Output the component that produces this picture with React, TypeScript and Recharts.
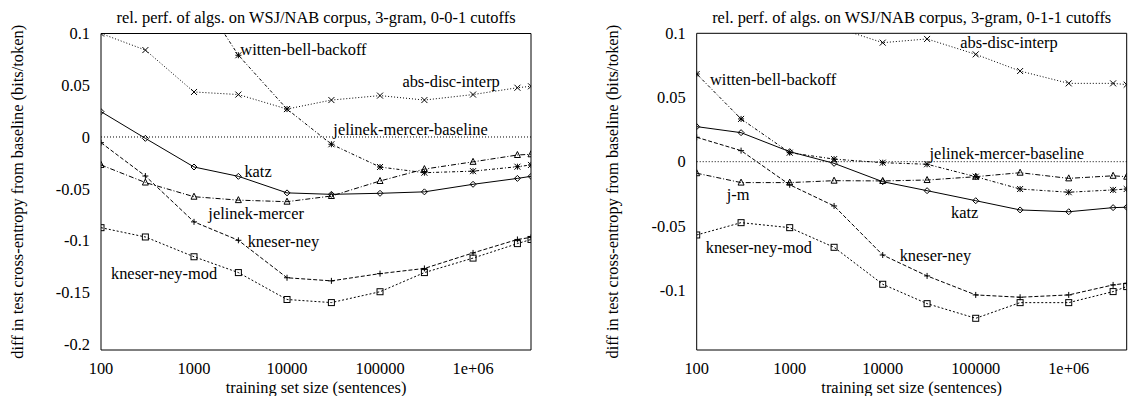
import React from 'react'
import {
  LineChart,
  Line,
  XAxis,
  YAxis,
  ReferenceLine,
  ReferenceDot,
} from 'recharts'

const FONT = 'Liberation Serif, Times New Roman, Times, serif'
const FS = 16.4

// training set sizes (sentences), shared by both panels
const SIZES = [100, 300, 1000, 3000, 10000, 30000, 100000, 300000, 1000000, 3000000, 4200000]
const X_MAJOR = [100, 1000, 10000, 100000, 1000000]
const X_MINOR_MULT = [2, 3, 4, 5, 6, 7, 8, 9]
const X_DOMAIN: [number, number] = [100, 4200000]

// left panel: 0-0-1 cutoffs
const L_KATZ = [0.0245, -0.0013, -0.029, -0.038, -0.054, -0.0554, -0.0544, -0.053, -0.0457, -0.04, -0.038]
const L_ABS = [0.1, 0.084, 0.0435, 0.041, 0.027, 0.0357, 0.04, 0.0357, 0.041, 0.0476, 0.049]
const L_WB = [0.26, 0.2, 0.145, 0.079, 0.027, -0.007, -0.029, -0.0345, -0.033, -0.0287, -0.027]
const L_JM = [-0.027, -0.044, -0.0577, -0.061, -0.0625, -0.057, -0.0425, -0.031, -0.024, -0.0174, -0.0167]
const L_KN = [-0.0055, -0.0377, -0.082, -0.0998, -0.136, -0.139, -0.132, -0.127, -0.112, -0.099, -0.097]
const L_KNM = [-0.0876, -0.0966, -0.1157, -0.131, -0.157, -0.16, -0.1495, -0.131, -0.117, -0.103, -0.099]
const L_Y_TICKS = [-0.2, -0.15, -0.1, -0.05, 0, 0.05, 0.1]

// right panel: 0-1-1 cutoffs
const R_KATZ = [0.0273, 0.0226, 0.0078, -0.0013, -0.0156, -0.0226, -0.0304, -0.0376, -0.039, -0.0358, -0.0355]
const R_ABS = [0.135, 0.125, 0.115, 0.105, 0.0927, 0.0956, 0.0836, 0.0706, 0.061, 0.061, 0.06]
const R_WB = [0.0683, 0.0333, 0.007, 0.002, -0.0008, -0.002, -0.0117, -0.0213, -0.0238, -0.022, -0.0213]
const R_JM = [-0.009, -0.0163, -0.0163, -0.0148, -0.015, -0.0143, -0.0117, -0.0086, -0.013, -0.011, -0.0117]
const R_KN = [0.019, 0.0086, -0.018, -0.0345, -0.0727, -0.089, -0.1038, -0.1056, -0.1038, -0.096, -0.0947]
const R_KNM = [-0.0571, -0.0475, -0.0514, -0.0667, -0.0955, -0.1106, -0.122, -0.1098, -0.1098, -0.1012, -0.0973]
const R_Y_TICKS = [-0.1, -0.05, 0, 0.05, 0.1]

type Shape = 'diamond' | 'cross' | 'star' | 'triangle' | 'plus' | 'square'

interface SeriesDef {
  key: string
  values: number[]
  shape: Shape
  dash?: string
}

interface Note {
  text: string
  x: number
  y: number
}

const X_MINOR = X_MAJOR.flatMap((d) => X_MINOR_MULT.map((m) => d * m)).filter(
  (v) => v <= X_DOMAIN[1]
)

const fmtX = (v: number) => (v >= 1000000 ? '1e+06' : String(v))

function Marker({ cx, cy, shape }: { cx: number; cy: number; shape: Shape }) {
  const s = 3
  const st = { stroke: '#000', strokeWidth: 1, fill: 'none' }
  switch (shape) {
    case 'diamond':
      return <path d={`M${cx},${cy - s} L${cx + s},${cy} L${cx},${cy + s} L${cx - s},${cy} Z`} {...st} />
    case 'cross':
      return <path d={`M${cx - s},${cy - s} L${cx + s},${cy + s} M${cx - s},${cy + s} L${cx + s},${cy - s}`} {...st} />
    case 'star':
      return (
        <path
          d={`M${cx - s},${cy - s} L${cx + s},${cy + s} M${cx - s},${cy + s} L${cx + s},${cy - s} M${cx - s},${cy} L${cx + s},${cy} M${cx},${cy - s} L${cx},${cy + s}`}
          {...st}
        />
      )
    case 'triangle':
      return <path d={`M${cx},${cy - s - 0.5} L${cx + s},${cy + s - 0.5} L${cx - s},${cy + s - 0.5} Z`} {...st} />
    case 'plus':
      return <path d={`M${cx - s},${cy} L${cx + s},${cy} M${cx},${cy - s} L${cx},${cy + s}`} {...st} />
    default:
      return <rect x={cx - s} y={cy - s} width={2 * s} height={2 * s} {...st} />
  }
}

const dotFor = (shape: Shape) => (p: any) => {
  if (!Number.isFinite(p.cx) || !Number.isFinite(p.cy)) return <g key={`e-${p.index}`} />
  return (
    <g key={`${shape}-${p.index}`}>
      <Marker cx={p.cx} cy={p.cy} shape={shape} />
    </g>
  )
}

const textStyle = { fontFamily: FONT, fontSize: FS, fill: '#000' }

interface PanelProps {
  title: string
  left: number
  width: number
  marginRight: number
  marginTop: number
  yWidth: number
  yLabelX: number
  yDomain: [number, number]
  yTicks: number[]
  series: SeriesDef[]
  notes: Note[]
}

function Panel(props: PanelProps) {
  const { title, left, width, marginRight, marginTop, yWidth, yLabelX, yDomain, yTicks, series, notes } = props
  const rows = SIZES.map((x, i) => {
    const row: Record<string, number> = { x }
    series.forEach((s) => (row[s.key] = s.values[i]))
    return row
  })
  const axisLine = { stroke: '#000', strokeWidth: 1 }
  const tickLine = { stroke: '#000', strokeWidth: 1 }

  return (
    <div style={{ position: 'absolute', left, top: 0 }}>
      <LineChart
        width={width}
        height={396}
        data={rows}
        margin={{ top: marginTop, right: marginRight, bottom: 0, left: 0 }}
        style={{ fontFamily: FONT }}
      >
        {/* labelled axes */}
        <XAxis
          dataKey="x"
          type="number"
          scale="log"
          domain={X_DOMAIN}
          allowDataOverflow
          ticks={X_MAJOR}
          interval={0}
          tickFormatter={fmtX}
          tickLine={false}
          axisLine={false}
          tickSize={0}
          tickMargin={12}
          height={46}
          tick={textStyle}
          fontFamily={FONT}
          label={{
            content: (p: any) => {
              const vb = p.viewBox || {}
              return (
                <text x={vb.x + vb.width / 2} y={vb.y + 37} textAnchor="middle" dominantBaseline="central" fontFamily={FONT} fontSize={FS} fill="#000">
                  training set size (sentences)
                </text>
              )
            },
          }}
        />
        <YAxis
          type="number"
          domain={yDomain}
          allowDataOverflow
          ticks={yTicks}
          interval={0}
          tickFormatter={(v: number) => String(v)}
          tickLine={false}
          axisLine={false}
          tickSize={0}
          tickMargin={11}
          width={yWidth}
          tick={textStyle}
          fontFamily={FONT}
          label={{
            content: (p: any) => {
              const vb = p.viewBox || {}
              const cx = vb.x + yLabelX
              const cy = vb.y + vb.height / 2
              return (
                <text
                  x={cx}
                  y={cy}
                  transform={`rotate(-90 ${cx} ${cy})`}
                  textAnchor="middle"
                  dominantBaseline="central"
                  fontFamily={FONT}
                  fontSize={FS}
                  fill="#000"
                >
                  diff in test cross-entropy from baseline (bits/token)
                </text>
              )
            },
          }}
        />

        {/* frame with inward ticks */}
        <XAxis xAxisId="bMaj" dataKey="x" type="number" scale="log" domain={X_DOMAIN} allowDataOverflow
          ticks={X_MAJOR} interval={0} mirror height={1} tick={false} tickSize={7} tickLine={tickLine} axisLine={axisLine} />
        <XAxis xAxisId="bMin" dataKey="x" type="number" scale="log" domain={X_DOMAIN} allowDataOverflow
          ticks={X_MINOR} interval={0} mirror height={1} tick={false} tickSize={4} tickLine={tickLine} axisLine={false} />
        <XAxis xAxisId="tMaj" orientation="top" dataKey="x" type="number" scale="log" domain={X_DOMAIN} allowDataOverflow
          ticks={X_MAJOR} interval={0} mirror height={1} tick={false} tickSize={7} tickLine={tickLine} axisLine={axisLine}
          label={{
            content: (p: any) => {
              const vb = p.viewBox || {}
              return (
                <text x={vb.x + vb.width / 2} y={vb.y - 16} textAnchor="middle" dominantBaseline="central" fontFamily={FONT} fontSize={FS} fill="#000">
                  {title}
                </text>
              )
            },
          }}
        />
        <XAxis xAxisId="tMin" orientation="top" dataKey="x" type="number" scale="log" domain={X_DOMAIN} allowDataOverflow
          ticks={X_MINOR} interval={0} mirror height={1} tick={false} tickSize={4} tickLine={tickLine} axisLine={false} />
        <YAxis yAxisId="lMaj" type="number" domain={yDomain} allowDataOverflow ticks={yTicks} interval={0}
          mirror width={1} tick={false} tickSize={7} tickLine={tickLine} axisLine={axisLine} />
        <YAxis yAxisId="rMaj" orientation="right" type="number" domain={yDomain} allowDataOverflow ticks={yTicks} interval={0}
          mirror width={1} tick={false} tickSize={7} tickLine={tickLine} axisLine={axisLine} />

        <ReferenceLine y={0} stroke="#000" strokeWidth={1} strokeDasharray="1 2" />

        {series.map((s) => (
          <Line
            key={s.key}
            dataKey={s.key}
            type="linear"
            stroke="#000"
            strokeWidth={1}
            strokeDasharray={s.dash}
            dot={dotFor(s.shape)}
            activeDot={false}
            isAnimationActive={false}
          />
        ))}

        {notes.map((n) => (
          <ReferenceDot
            key={n.text}
            x={n.x}
            y={n.y}
            r={1}
            ifOverflow="visible"
            shape={(p: any) => (
              <text x={p.cx} y={p.cy} dominantBaseline="central" fontFamily={FONT} fontSize={FS} fill="#000">
                {n.text}
              </text>
            )}
          />
        ))}
      </LineChart>
    </div>
  )
}

const LEFT_SERIES: SeriesDef[] = [
  { key: 'abs', values: L_ABS, shape: 'cross', dash: '1 2' },
  { key: 'wb', values: L_WB, shape: 'star', dash: '3 2 1 2' },
  { key: 'katz', values: L_KATZ, shape: 'diamond' },
  { key: 'jm', values: L_JM, shape: 'triangle', dash: '5 2 1 2' },
  { key: 'kn', values: L_KN, shape: 'plus', dash: '4 2' },
  { key: 'knm', values: L_KNM, shape: 'square', dash: '2 2' },
]

const RIGHT_SERIES: SeriesDef[] = [
  { key: 'abs', values: R_ABS, shape: 'cross', dash: '1 2' },
  { key: 'wb', values: R_WB, shape: 'star', dash: '3 2 1 2' },
  { key: 'katz', values: R_KATZ, shape: 'diamond' },
  { key: 'jm', values: R_JM, shape: 'triangle', dash: '5 2 1 2' },
  { key: 'kn', values: R_KN, shape: 'plus', dash: '4 2' },
  { key: 'knm', values: R_KNM, shape: 'square', dash: '2 2' },
]

const LEFT_NOTES: Note[] = [
  { text: 'witten-bell-backoff', x: 3150, y: 0.085 },
  { text: 'abs-disc-interp', x: 174000, y: 0.054 },
  { text: 'jelinek-mercer-baseline', x: 31500, y: 0.0074 },
  { text: 'katz', x: 3480, y: -0.0335 },
  { text: 'jelinek-mercer', x: 1426, y: -0.0741 },
  { text: 'kneser-ney', x: 3775, y: -0.1005 },
  { text: 'kneser-ney-mod', x: 128, y: -0.1317 },
]

const RIGHT_NOTES: Note[] = [
  { text: 'abs-disc-interp', x: 68200, y: 0.0927 },
  { text: 'witten-bell-backoff', x: 139, y: 0.0642 },
  { text: 'jelinek-mercer-baseline', x: 31900, y: 0.006 },
  { text: 'j-m', x: 210, y: -0.0252 },
  { text: 'katz', x: 54200, y: -0.0397 },
  { text: 'kneser-ney', x: 15200, y: -0.0732 },
  { text: 'kneser-ney-mod', x: 125, y: -0.0667 },
]

export default function App() {
  return (
    <div style={{ position: 'absolute', left: 0, top: 0, width: 1129, height: 396, background: '#fff', fontFamily: FONT }}>
      <Panel
        title="rel. perf. of algs. on WSJ/NAB corpus, 3-gram, 0-0-1 cutoffs"
        left={0}
        width={565}
        marginRight={34}
        marginTop={33.5}
        yWidth={101}
        yLabelX={17}
        yDomain={[-0.2058, 0.1]}
        yTicks={L_Y_TICKS}
        series={LEFT_SERIES}
        notes={LEFT_NOTES}
      />
      <Panel
        title="rel. perf. of algs. on WSJ/NAB corpus, 3-gram, 0-1-1 cutoffs"
        left={565}
        width={564}
        marginRight={2.3}
        marginTop={33.3}
        yWidth={131.7}
        yLabelX={48}
        yDomain={[-0.1467, 0.1]}
        yTicks={R_Y_TICKS}
        series={RIGHT_SERIES}
        notes={RIGHT_NOTES}
      />
    </div>
  )
}
